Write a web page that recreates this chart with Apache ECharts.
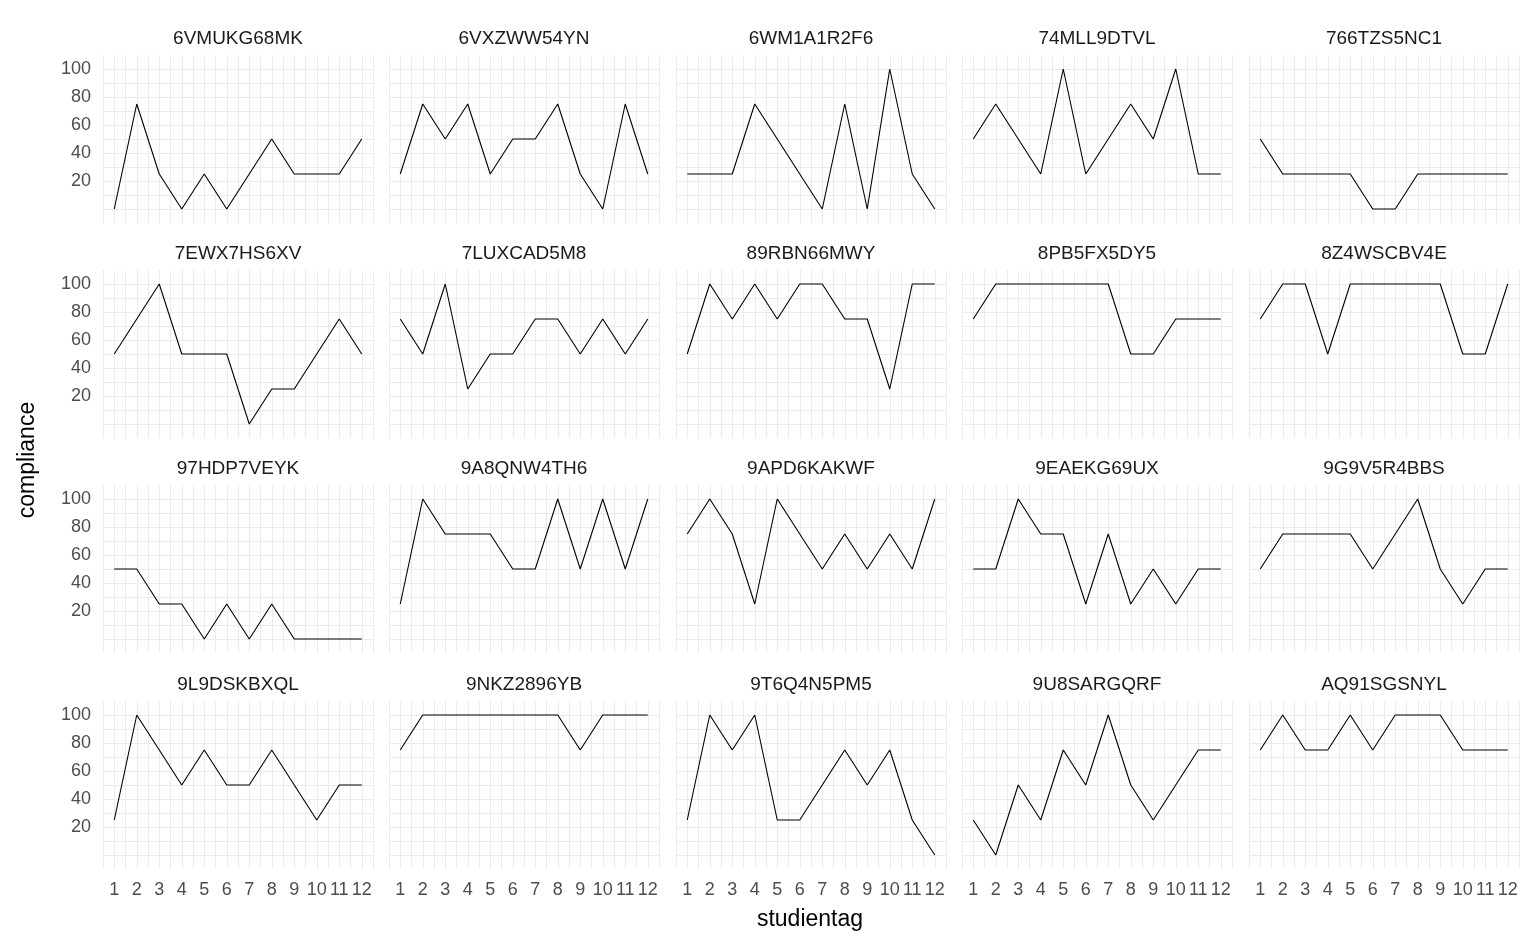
<!DOCTYPE html><html><head><meta charset="utf-8">
<script src="https://cdn.jsdelivr.net/npm/echarts@6/dist/echarts.min.js"></script>
<style>body{margin:0}#c{width:1536px;height:949px}</style></head><body><div id="c"></div><script>
const days=[1,2,3,4,5,6,7,8,9,10,11,12];
const ids=["6VMUKG68MK","6VXZWW54YN","6WM1A1R2F6","74MLL9DTVL","766TZS5NC1","7EWX7HS6XV","7LUXCAD5M8","89RBN66MWY","8PB5FX5DY5","8Z4WSCBV4E","97HDP7VEYK","9A8QNW4TH6","9APD6KAKWF","9EAEKG69UX","9G9V5R4BBS","9L9DSKBXQL","9NKZ2896YB","9T6Q4N5PM5","9U8SARGQRF","AQ91SGSNYL"];
const s01=[0,75,25,0,25,0,25,50,25,25,25,50];
const s02=[25,75,50,75,25,50,50,75,25,0,75,25];
const s03=[25,25,25,75,50,25,0,75,0,100,25,0];
const s04=[50,75,50,25,100,25,50,75,50,100,25,25];
const s05=[50,25,25,25,25,0,0,25,25,25,25,25];
const s06=[50,75,100,50,50,50,0,25,25,50,75,50];
const s07=[75,50,100,25,50,50,75,75,50,75,50,75];
const s08=[50,100,75,100,75,100,100,75,75,25,100,100];
const s09=[75,100,100,100,100,100,100,50,50,75,75,75];
const s10=[75,100,100,50,100,100,100,100,100,50,50,100];
const s11=[50,50,25,25,0,25,0,25,0,0,0,0];
const s12=[25,100,75,75,75,50,50,100,50,100,50,100];
const s13=[75,100,75,25,100,75,50,75,50,75,50,100];
const s14=[50,50,100,75,75,25,75,25,50,25,50,50];
const s15=[50,75,75,75,75,50,75,100,50,25,50,50];
const s16=[25,100,75,50,75,50,50,75,50,25,50,50];
const s17=[75,100,100,100,100,100,100,100,75,100,100,100];
const s18=[25,100,75,100,25,25,50,75,50,75,25,0];
const s19=[25,0,50,25,75,50,100,50,25,50,75,75];
const s20=[75,100,75,75,100,75,100,100,100,75,75,75];
const vals=[s01,s02,s03,s04,s05,s06,s07,s08,s09,s10,s11,s12,s13,s14,s15,s16,s17,s18,s19,s20];
const colL=[103,389,676,962,1249], rowT=[55,270,485,701];
const F='Liberation Sans, Arial';
const grid=[],xAxis=[],yAxis=[],series=[],graphic=[];
const yc=[];for(let i=0;i<13;i++)yc.push(i==0||i==12?'rgba(0,0,0,0)':'#ebebeb');
vals.forEach((v,i)=>{
 const r=Math.floor(i/5),c=i%5;
 grid.push({left:colL[c],top:rowT[r],width:270,height:168});
 graphic.push({type:'text',x:colL[c]+135,y:rowT[r]-16,style:{text:ids[i],fontSize:19,fill:'#1a1a1a',align:'center',verticalAlign:'middle',fontFamily:F}});
 xAxis.push({type:'value',gridIndex:i,min:0.5,max:12.5,interval:0.5,axisLine:{show:false},axisTick:{show:false},
  splitLine:{lineStyle:{color:'#ebebeb',width:1}},
  axisLabel:{show:r==3,fontSize:18,color:'#4d4d4d',margin:12,fontFamily:F,formatter:x=>Number.isInteger(x)?String(x):''}});
 yAxis.push({type:'value',gridIndex:i,min:-10,max:110,interval:10,axisLine:{show:false},axisTick:{show:false},
  splitLine:{lineStyle:{color:yc,width:1}},
  axisLabel:{show:c==0,fontSize:18,color:'#4d4d4d',margin:12,fontFamily:F,formatter:y=>(y>0&&y<=100&&y%20==0)?String(y):''}});
 series.push({type:'line',xAxisIndex:i,yAxisIndex:i,data:days.map((d,j)=>[d,v[j]]),symbol:'none',lineStyle:{color:'#000',width:1.1},animation:false});
});
graphic.push({type:'text',x:28,y:460,rotation:Math.PI/2,style:{text:'compliance',fontSize:23,fill:'#000',align:'center',verticalAlign:'middle',fontFamily:F}});
graphic.push({type:'text',x:810,y:920,style:{text:'studientag',fontSize:23,fill:'#000',align:'center',verticalAlign:'middle',fontFamily:F}});
const ch=echarts.init(document.getElementById('c'));
ch.setOption({animation:false,grid,xAxis,yAxis,series,graphic});
</script></body></html>
